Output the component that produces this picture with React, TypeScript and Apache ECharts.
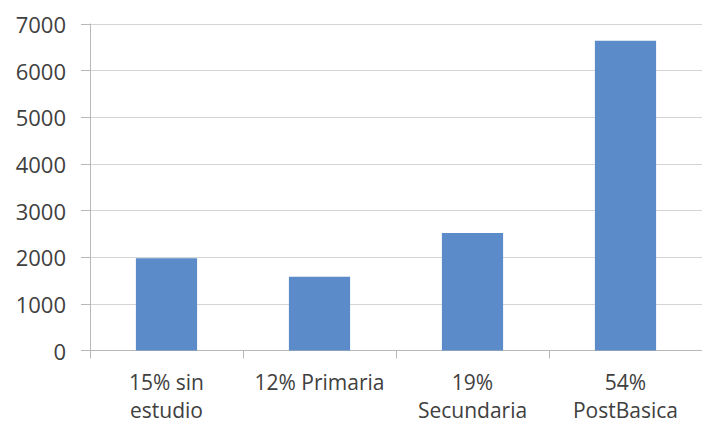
import React, { useEffect, useRef } from "react";
import * as echarts from "echarts";

const categories = ["15% sin\nestudio", "12% Primaria", "19%\nSecundaria", "54%\nPostBasica"];
const values = [1980, 1580, 2520, 6640];
const yTicks = { min: 0, max: 7000, interval: 1000 };

export default function App() {
  const ref = useRef<HTMLDivElement>(null);
  useEffect(() => {
    document.body.style.margin = "0";
    const chart = echarts.init(ref.current!, null, { renderer: "svg" });
    const font = "'Open Sans', 'Liberation Sans', sans-serif";
    chart.setOption({
      animation: false,
      backgroundColor: "#ffffff",
      grid: { left: 90, top: 24, right: -1, bottom: 78.5, containLabel: false },
      xAxis: {
        type: "category",
        data: categories,
        axisLine: { show: true, lineStyle: { color: "#b8b8b8", width: 1 } },
        axisTick: { show: true, length: 8, lineStyle: { color: "#b8b8b8" } },
        axisLabel: {
          color: "#404040",
          fontFamily: font,
          fontSize: 21,
          lineHeight: 28,
          margin: 17,
          interval: 0,
        },
      },
      yAxis: {
        type: "value",
        min: yTicks.min,
        max: yTicks.max,
        interval: yTicks.interval,
        axisLine: { show: true, lineStyle: { color: "#b8b8b8", width: 1 } },
        axisTick: { show: true, length: 9, lineStyle: { color: "#b8b8b8" } },
        splitLine: { show: true, lineStyle: { color: "#d4d4d4", width: 1 } },
        axisLabel: {
          color: "#404040",
          fontFamily: font,
          fontSize: 22,
          margin: 24,
          formatter: (v: number) => String(v),
        },
      },
      series: [
        {
          type: "bar",
          data: values,
          barWidth: "40%",
          itemStyle: { color: "#5b8bc9" },
        },
      ],
    });
    return () => chart.dispose();
  }, []);
  return <div ref={ref} style={{ width: 702, height: 429 }} />;
}
